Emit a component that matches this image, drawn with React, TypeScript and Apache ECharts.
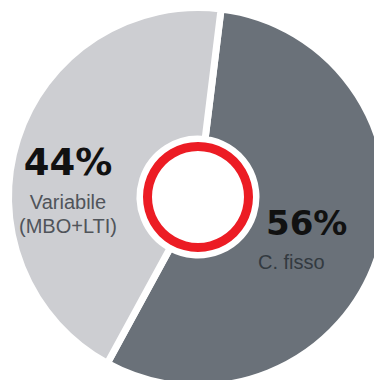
import React, { useEffect, useRef } from "react";
import * as echarts from "echarts";

const categories = ["C. fisso", "Variabile\n(MBO+LTI)"];
const values = [56, 44];
const colors = ["#6a7179", "#cdced2"];

export default function App() {
  const ref = useRef<HTMLDivElement>(null);
  useEffect(() => {
    if (!ref.current) return;
    const chart = echarts.init(ref.current, null, { renderer: "svg" });
    const cx = 198;
    const cy = 197;
    const labelPos = [
      { pctX: 266, pctY: 223, pctSize: 34, pctAlign: "left", nameX: 258, nameY: 262, nameColor: "#333a40" },
      { pctX: 68, pctY: 162, pctSize: 37, pctAlign: "center", nameX: 68, nameY: 202, nameColor: "#50545a" },
    ];
    const graphics: any[] = [
      {
        type: "ring",
        shape: { cx, cy, r: 55, r0: 46 },
        style: { fill: "#ec1c24" },
        z: 10,
      },
    ];
    values.forEach((v, i) => {
      const p = labelPos[i];
      graphics.push({
        type: "text",
        x: p.pctX,
        y: p.pctY,
        z: 10,
        style: {
          text: `${v}%`,
          font: `bold ${p.pctSize}px "DejaVu Sans"`,
          fill: "#111111",
          align: p.pctAlign,
          verticalAlign: "middle",
        },
      });
      categories[i].split("\n").forEach((line, j) => {
        graphics.push({
          type: "text",
          x: p.nameX,
          y: p.nameY + j * 24,
          z: 10,
          style: {
            text: line,
            font: `20px "Liberation Sans"`,
            fill: p.nameColor,
            align: p.pctAlign,
            verticalAlign: "middle",
          },
        });
      });
    });
    chart.setOption({
      animation: false,
      series: [
        {
          type: "pie",
          center: [cx, cy],
          radius: [58, 189.5],
          startAngle: 83,
          clockwise: true,
          silent: true,
          label: { show: false },
          labelLine: { show: false },
          itemStyle: { borderColor: "#ffffff", borderWidth: 7 },
          data: categories.map((c, i) => ({
            name: c,
            value: values[i],
            itemStyle: { color: colors[i] },
          })),
        },
      ],
      graphic: graphics,
    });
    return () => chart.dispose();
  }, []);
  return (
    <div
      ref={ref}
      style={{ position: "absolute", left: 0, top: 0, width: 374, height: 380, background: "#fff" }}
    />
  );
}
